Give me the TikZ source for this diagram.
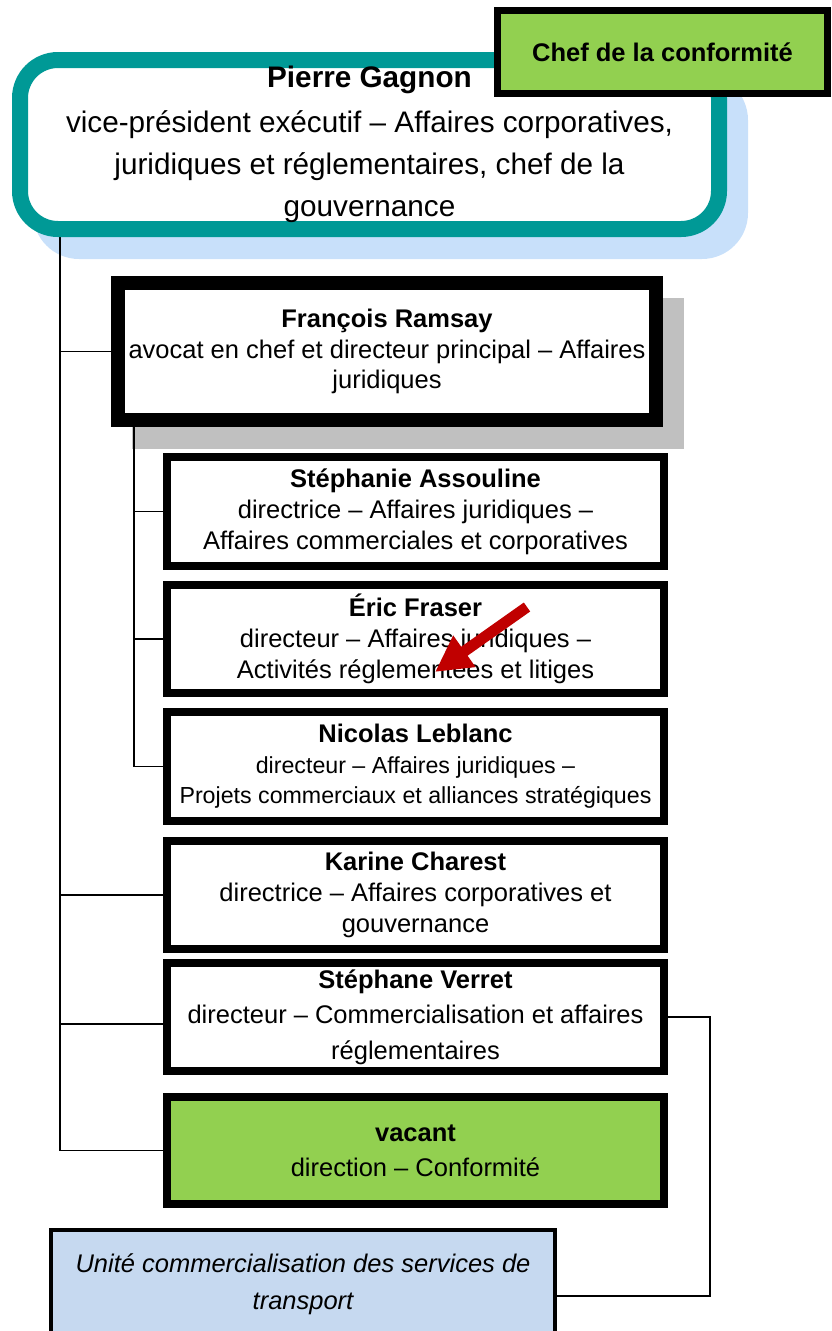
\documentclass[tikz,border=0pt]{standalone}
\usepackage{fontspec}
\setmainfont{Liberation Sans}
\usetikzlibrary{arrows.meta,backgrounds}
\definecolor{pgteal}{RGB}{0,153,150}
\definecolor{pgshadowblue}{RGB}{200,224,250}
\definecolor{pggreen}{RGB}{146,208,80}
\definecolor{pggray}{RGB}{192,192,192}
\definecolor{pgunit}{RGB}{198,217,240}
\definecolor{pgred}{RGB}{192,0,0}
\begin{document}
\begin{tikzpicture}[x=1pt,y=-1pt,
  box/.style={draw=black, line width=7.5pt, fill=white, minimum width=497pt,
    minimum height=108pt, inner sep=0pt, align=center,
    font=\fontsize{25.5}{31}\selectfont},
  conn/.style={draw=black, line width=1.6pt}]
\path[use as bounding box] (0,0) rectangle (831,1331);
\clip (0,0) rectangle (831,1331);

% main head box
\node[draw=pgteal, line width=16pt, rounded corners=38pt, fill=white,
  minimum width=699pt, minimum height=169pt, inner sep=0pt, align=center,
  font=\fontsize{29.7}{42}\selectfont] (pierre) at (369.5,144.5)
  {{\bfseries Pierre Gagnon}\\[3pt]
   vice-président exécutif – Affaires corporatives,\\
   juridiques et réglementaires, chef de la\\
   gouvernance};

\node[draw=black, line width=7pt, fill=pggreen, minimum width=330pt,
  minimum height=83pt, inner sep=0pt,
  font=\bfseries\fontsize{25.5}{30}\selectfont] (chef) at (662.5,52)
  {Chef de la conformité};

\node[box, line width=14pt, minimum width=538pt, minimum height=137pt,
  font=\fontsize{25.5}{30.5}\selectfont] (ramsay) at (387,351.5)
  {{\bfseries François Ramsay}\\
   avocat en chef et directeur principal – Affaires\\
   juridiques};

\node[box, minimum height=109pt] (assouline) at (415.5,511.5)
  {{\bfseries Stéphanie Assouline}\\
   directrice – Affaires juridiques –\\
   Affaires commerciales et corporatives};

\node[box] (fraser) at (415.5,639)
  {{\bfseries Éric Fraser}\\
   directeur – Affaires juridiques –\\
   Activités réglementées et litiges};

\node[box, minimum height=109pt, font=\fontsize{23.2}{30.5}\selectfont] (leblanc) at (415.5,766.5)
  {{\bfseries\fontsize{25.5}{30.5}\selectfont Nicolas Leblanc}\\
   directeur – Affaires juridiques –\\
   Projets commerciaux et alliances stratégiques};

\node[box] (charest) at (415.5,895)
  {{\bfseries Karine Charest}\\
   directrice – Affaires corporatives et\\
   gouvernance};

\node[box, font=\fontsize{25.5}{35.5}\selectfont] (verret) at (415.5,1017)
  {{\bfseries Stéphane Verret}\\
   directeur – Commercialisation et affaires\\
   réglementaires};

\node[box, fill=pggreen, minimum height=107pt,
  font=\fontsize{25.5}{35}\selectfont] (vacant) at (415.5,1150.5)
  {{\bfseries vacant}\\
   direction – Conformité};

\node[box, line width=4pt, fill=pgunit, minimum width=504pt,
  font=\itshape\fontsize{25.5}{37}\selectfont] (unite) at (303,1284)
  {Unité commercialisation des services de\\
   transport};

% shadows and connectors behind the boxes
\begin{pgfonlayer}{background}
  \fill[pgshadowblue, rounded corners=46pt]
    ([shift={(21,22)}]pierre.north west) rectangle ([shift={(21,22)}]pierre.south east);
  \fill[pggray]
    ([shift={(21,22)}]ramsay.north west) rectangle ([shift={(21,22)}]ramsay.south east);

  \coordinate (tx) at (60,0);
  \coordinate (ix) at (134,0);
  \coordinate (rx) at (710,0);
  \coordinate (verretL) at ([yshift=-7pt]verret.west);
  \coordinate (uniteR) at ([yshift=-12pt]unite.east);

  \draw[conn] (pierre.south -| tx) -- (vacant.west -| tx) -- (vacant.west);
  \draw[conn] (ramsay.west -| tx) -- (ramsay.west);
  \draw[conn] (charest.west -| tx) -- (charest.west);
  \draw[conn] (verretL -| tx) -- (verretL);

  \draw[conn] (ramsay.south -| ix) -- (leblanc.west -| ix) -- (leblanc.west);
  \draw[conn] (assouline.west -| ix) -- (assouline.west);
  \draw[conn] (fraser.west -| ix) -- (fraser.west);

  \draw[conn] (verret.east) -| (uniteR -| rx) -- (uniteR);
\end{pgfonlayer}

% red arrow
\coordinate (arrowtail) at (527,607);
\coordinate (arrowtip) at (435,672);
\draw[pgred, line width=11pt, -{Triangle[length=36pt,width=36pt]}] (arrowtail) -- (arrowtip);

\end{tikzpicture}
\end{document}
